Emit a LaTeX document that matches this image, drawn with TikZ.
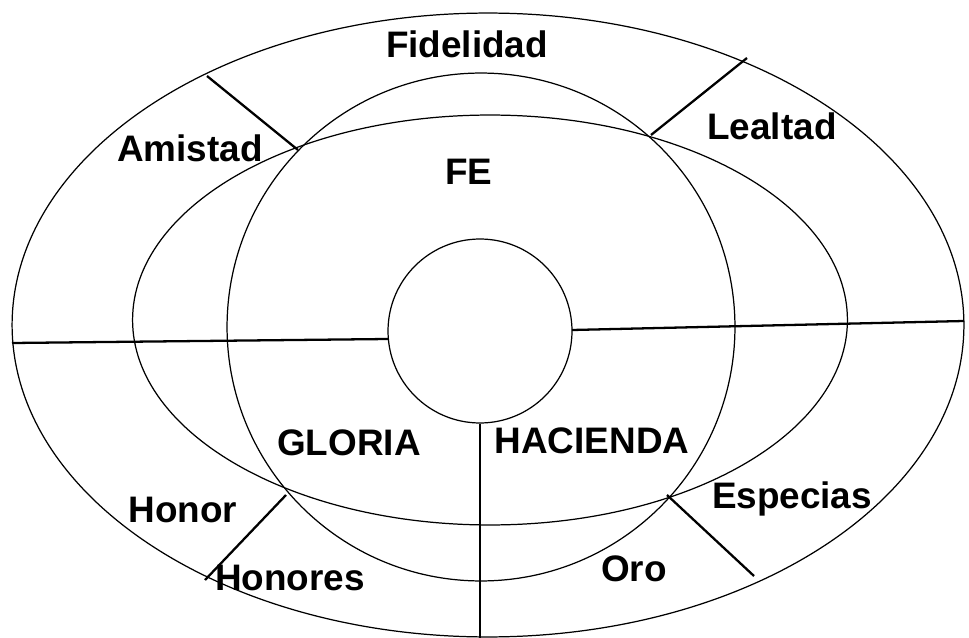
\documentclass[tikz,border=0pt]{standalone}
\usepackage{fontspec}
\setmainfont{Liberation Sans}
\usetikzlibrary{shapes,positioning,calc}
\tikzset{
ring/.style = {draw, ellipse, inner sep=0pt, line width=0.7pt},
disc/.style = {draw, circle, inner sep=0pt, line width=0.7pt},
divider/.style = {line width=1.3pt},
sector/.style = {anchor=base, inner sep=0pt, font=\bfseries\fontsize{21}{25}\selectfont}
}
\begin{document}
\begin{tikzpicture}[x=0.02cm, y=-0.02cm]
  \useasboundingbox (0,0) rectangle (969,638);
  % rings
  \node [ring, minimum width=19.04cm, minimum height=12.48cm] (outer) at (488,325) {};
  \node [ring, minimum width=14.3cm, minimum height=8.2cm] (middle) at (490,320) {};
  \node [disc, minimum size=10.16cm] (big) at (481,327) {};
  \node [disc, minimum size=3.68cm] (small) at (480,331) {};
  % end points of the dividers
  \coordinate (nwIn) at (298,150);
  \coordinate (nwOut) at (207,76);
  \coordinate (neIn) at (651,135);
  \coordinate (neOut) at (747,58);
  \coordinate (swIn) at (286,495);
  \coordinate (swOut) at (205,580);
  \coordinate (seIn) at (667,495);
  \coordinate (seOut) at (754,576);
  \coordinate (wOut) at (12,343);
  \coordinate (wIn) at (388,339);
  \coordinate (eIn) at (572,330);
  \coordinate (eOut) at (964,321);
  \draw [divider] (nwIn) -- (nwOut);
  \draw [divider] (neIn) -- (neOut);
  \draw [divider] (swIn) -- (swOut);
  \draw [divider] (seIn) -- (seOut);
  \draw [divider] (wOut) -- (wIn);
  \draw [divider] (eIn) -- (eOut);
  \draw [divider] (small.south) -- (small.south |- outer.south);
  % labels
  \node [sector] (fidelidad) at (467,58) {Fidelidad};
  \node [sector] (amistad) at (190,162) {Amistad};
  \node [sector] (fe) at (469,185) {FE};
  \node [sector] (lealtad) at (772,140) {Lealtad};
  \node [sector] (gloria) at (349,455) {GLORIA};
  \node [sector] (hacienda) at (592,453) {HACIENDA};
  \node [sector] (honor) at (183,522) {Honor};
  \node [sector] (honores) at (290,590) {Honores};
  \node [sector] (especias) at (792,508) {Especias};
  \node [sector] (oro) at (634,581) {Oro};
\end{tikzpicture}
\end{document}
